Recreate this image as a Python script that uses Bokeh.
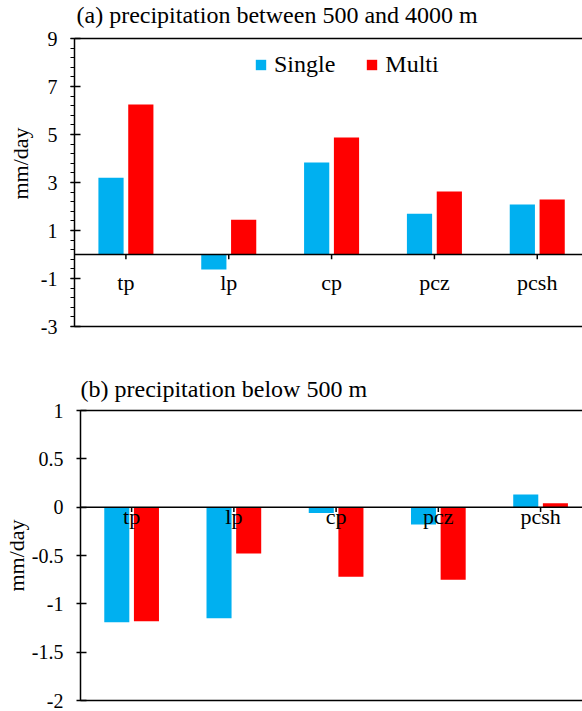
import numpy as np
from bokeh.plotting import figure
from bokeh.models import (Range1d, FixedTicker, LinearAxis, Legend, LegendItem,
                          ColumnDataSource, Span, Label)
from bokeh.transform import dodge
from bokeh.core.properties import value
from bokeh.embed import file_html
from bokeh.resources import INLINE

# ---------------- data ----------------
categories = ["tp", "lp", "cp", "pcz", "pcsh"]
series = ["Single", "Multi"]
single_a = [3.20, -0.62, 3.83, 1.70, 2.08]
multi_a = [6.25, 1.45, 4.87, 2.62, 2.29]
single_b = [-1.19, -1.15, -0.06, -0.18, 0.13]
multi_b = [-1.18, -0.48, -0.72, -0.75, 0.04]
yticks_a = [-3, -1, 1, 3, 5, 7, 9]
yticks_b = [-2, -1.5, -1, -0.5, 0, 0.5, 1]
title_a = "(a) precipitation between 500 and 4000 m"
title_b = "(b) precipitation below 500 m"
ylabel = "mm/day"

colors = ["#00B0F0", "#FF0000"]
FONT = "Liberation Serif"


def fmt(v):
    return ("%g" % v)


def make_panel(title, single, multi, yticks, minor, height, left, top,
               bottom, xend, tick_len, lab_off, lab_standoff, ax_standoff,
               title_standoff, head_px=0, legend=False):
    frame_h = height - top - bottom
    ymin, ymax = yticks[0], yticks[-1]
    # extra headroom (in pixels) inside the frame that holds the title
    px_per_unit = (frame_h - head_px) / (ymax - ymin)
    yend = ymax + head_px / px_per_unit
    p = figure(width=582, height=height, output_backend="svg",
               toolbar_location=None, x_range=Range1d(-0.5, xend),
               y_range=Range1d(ymin, yend), min_border_left=left,
               min_border_right=0, min_border_top=top,
               min_border_bottom=bottom)
    p.xgrid.visible = False
    p.ygrid.visible = False
    p.outline_line_color = None
    p.background_fill_color = "white"
    p.border_fill_color = "white"

    src = ColumnDataSource(dict(x=list(range(len(categories))),
                                label=categories, single=single, multi=multi))
    rs = p.vbar(x=dodge("x", -0.145, range=p.x_range), top="single", bottom=0,
                width=0.245, source=src, fill_color=colors[0], line_color=None)
    rm = p.vbar(x=dodge("x", 0.145, range=p.x_range), top="multi", bottom=0,
                width=0.245, source=src, fill_color=colors[1], line_color=None)

    # zero line with category ticks and labels
    p.add_layout(Span(location=0, dimension="width", line_color="black",
                      line_width=1.5))
    p.segment(x0="x", x1="x", y0=0, y1=-tick_len, source=src,
              line_color="black", line_width=1.5)
    p.text(x="x", y=0, text="label", source=src, y_offset=lab_off,
           text_align="center", text_baseline="middle",
           text_font=value(FONT), text_font_size="22px", text_color="black")

    # y axis
    yax = p.yaxis[0]
    yax.ticker = FixedTicker(ticks=yticks, minor_ticks=minor)
    yax.bounds = (ymin, ymax)
    yax.major_label_overrides = {t: fmt(t) for t in yticks}
    yax.major_tick_in = 6
    yax.major_tick_out = 4
    yax.minor_tick_in = 0
    yax.minor_tick_out = 4
    yax.axis_line_color = "black"
    yax.axis_line_width = 1.5
    yax.major_tick_line_width = 1.5
    yax.minor_tick_line_width = 1.2
    yax.major_label_text_font = FONT
    yax.major_label_text_font_size = "20px"
    yax.major_label_text_color = "black"
    yax.major_label_standoff = lab_standoff
    yax.axis_label = ylabel
    yax.axis_label_text_font = FONT
    yax.axis_label_text_font_size = "22px"
    yax.axis_label_text_font_style = "normal"
    yax.axis_label_text_color = "black"
    yax.axis_label_standoff = ax_standoff

    # bottom frame line
    xax = p.xaxis[0]
    xax.ticker = FixedTicker(ticks=[])
    xax.major_tick_out = 0
    xax.major_tick_in = 0
    xax.minor_tick_out = 0
    xax.major_label_standoff = 0
    xax.axis_label_standoff = 0
    xax.axis_line_color = "black"
    xax.axis_line_width = 1.5

    if head_px > 0:
        # top frame line drawn at the top tick, title inside the headroom
        p.add_layout(Span(location=ymax, dimension="width",
                          line_color="black", line_width=1.5))
        p.add_layout(Label(x=2, y=frame_h - title_standoff, x_units="screen",
                           y_units="screen", text=title, text_font=FONT,
                           text_font_size="24px", text_color="black",
                           text_align="left", text_baseline="middle"))
        p.title.text = ""
    else:
        top_ax = LinearAxis(ticker=FixedTicker(ticks=[]), major_tick_out=0,
                            major_tick_in=0, minor_tick_out=0,
                            major_label_standoff=0, axis_label_standoff=0,
                            axis_line_color="black", axis_line_width=1.5)
        p.add_layout(top_ax, "above")
        p.title.text = title
        p.title.align = "left"
        p.title.text_font = FONT
        p.title.text_font_size = "24px"
        p.title.text_font_style = "normal"
        p.title.text_color = "black"
        p.title.standoff = title_standoff

    if legend:
        lg = Legend(items=[LegendItem(label=series[0], renderers=[rs]),
                           LegendItem(label=series[1], renderers=[rm])],
                    orientation="horizontal", location=(180, 248),
                    padding=0, margin=0, spacing=30, label_standoff=7,
                    glyph_width=13, glyph_height=13,
                    label_text_font=FONT, label_text_font_size="24px",
                    label_text_color="black", border_line_color=None,
                    background_fill_alpha=0)
        p.add_layout(lg)
    return p


minor_a = [round(v, 2) for v in np.arange(-3, 9.0001, 0.4)]
pa = make_panel(title_a, single_a, multi_a, yticks_a, minor_a,
                height=346, left=74, top=0, bottom=20, xend=4.44,
                tick_len=0.2, lab_off=28, lab_standoff=13, ax_standoff=5,
                title_standoff=14, head_px=38, legend=True)
pb = make_panel(title_b, single_b, multi_b, yticks_b, [],
                height=365, left=80, top=64, bottom=11, xend=4.41,
                tick_len=0.05, lab_off=9, lab_standoff=13, ax_standoff=0,
                title_standoff=18)

open("out.html", "w").write(file_html([pa, pb], INLINE))
